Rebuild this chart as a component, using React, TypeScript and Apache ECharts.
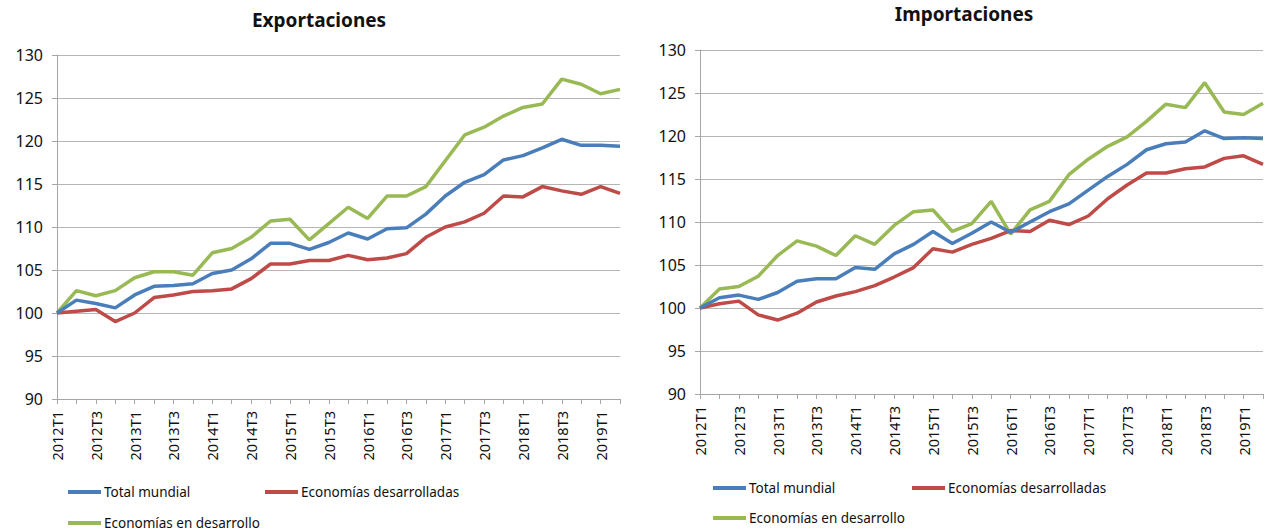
import React, { useEffect, useRef } from "react";
import * as echarts from "echarts";

const quarters = [
  "2012T1","2012T2","2012T3","2012T4",
  "2013T1","2013T2","2013T3","2013T4",
  "2014T1","2014T2","2014T3","2014T4",
  "2015T1","2015T2","2015T3","2015T4",
  "2016T1","2016T2","2016T3","2016T4",
  "2017T1","2017T2","2017T3","2017T4",
  "2018T1","2018T2","2018T3","2018T4",
  "2019T1","2019T2",
];

const seriesNames = ["Total mundial", "Economías desarrolladas", "Economías en desarrollo"];
const colors = ["#4a7ebb", "#be4b48", "#98b954"];

// Exportaciones
const expTotal = [100, 101.5, 101.1, 100.6, 102.1, 103.1, 103.2, 103.4, 104.6, 105.0, 106.3, 108.1, 108.1, 107.4, 108.2, 109.3, 108.6, 109.8, 109.9, 111.5, 113.6, 115.2, 116.1, 117.8, 118.3, 119.2, 120.2, 119.5, 119.5, 119.4];
const expDesarrolladas = [100, 100.2, 100.4, 99.0, 100.0, 101.8, 102.1, 102.5, 102.6, 102.8, 104.0, 105.7, 105.7, 106.1, 106.1, 106.7, 106.2, 106.4, 106.9, 108.8, 110.0, 110.6, 111.6, 113.6, 113.5, 114.7, 114.2, 113.8, 114.7, 113.9];
const expEnDesarrollo = [100, 102.6, 102.0, 102.6, 104.1, 104.8, 104.8, 104.4, 107.0, 107.5, 108.8, 110.7, 110.9, 108.5, 110.4, 112.3, 111.0, 113.6, 113.6, 114.7, 117.7, 120.7, 121.6, 122.9, 123.9, 124.3, 127.2, 126.6, 125.5, 126.0];

// Importaciones
const impTotal = [100, 101.2, 101.5, 101.0, 101.8, 103.1, 103.4, 103.4, 104.7, 104.5, 106.3, 107.4, 108.9, 107.5, 108.7, 110.0, 108.8, 110.0, 111.2, 112.1, 113.7, 115.3, 116.7, 118.4, 119.1, 119.3, 120.6, 119.7, 119.8, 119.7];
const impDesarrolladas = [100, 100.5, 100.8, 99.2, 98.6, 99.4, 100.7, 101.4, 101.9, 102.6, 103.6, 104.7, 106.9, 106.5, 107.4, 108.1, 109.0, 108.9, 110.2, 109.7, 110.7, 112.7, 114.3, 115.7, 115.7, 116.2, 116.4, 117.4, 117.7, 116.7];
const impEnDesarrollo = [100, 102.2, 102.5, 103.7, 106.1, 107.8, 107.2, 106.1, 108.4, 107.4, 109.6, 111.2, 111.4, 108.9, 109.8, 112.4, 108.6, 111.4, 112.4, 115.5, 117.3, 118.8, 119.9, 121.7, 123.7, 123.3, 126.2, 122.8, 122.5, 123.8];

const titles = ["Exportaciones", "Importaciones"];

export default function App() {
  const ref = useRef<HTMLDivElement>(null);
  useEffect(() => {
    document.body.style.margin = "0";
    if (!ref.current) return;
    const chart = echarts.init(ref.current, undefined, { renderer: "svg" });
    const font = "'Noto Sans', sans-serif";
    const grids = [
      { left: 57, right: 650, top: 55, bottom: 132 },
      { left: 700, right: 7, top: 50, bottom: 137 },
    ];
    const mkX = (i: number) => ({
      type: "category",
      gridIndex: i,
      data: quarters,
      boundaryGap: false,
      axisLine: { show: true, lineStyle: { color: "#a6a6a6", width: 1 } },
      axisTick: { show: true, interval: 0, length: 5, lineStyle: { color: "#a6a6a6" } },
      axisLabel: { interval: 1, rotate: 90, fontSize: 14.5, color: "#111", fontFamily: font, margin: 12 },
      splitLine: { show: false },
    });
    const mkY = (i: number) => ({
      type: "value",
      gridIndex: i,
      min: 90,
      max: 130,
      interval: 5,
      axisLine: { show: true, lineStyle: { color: "#a6a6a6", width: 1 } },
      axisTick: { show: true, length: 5, lineStyle: { color: "#a6a6a6" } },
      axisLabel: { fontSize: 16, color: "#111", fontFamily: font, margin: 14 },
      splitLine: { show: true, lineStyle: { color: "#b5b5b5", width: 1.2 } },
    });
    const data = [
      [expTotal, expDesarrolladas, expEnDesarrollo],
      [impTotal, impDesarrolladas, impEnDesarrollo],
    ];
    const series: any[] = [];
    data.forEach((group, gi) => {
      group.forEach((vals, si) => {
        series.push({
          type: "line",
          name: seriesNames[si],
          xAxisIndex: gi,
          yAxisIndex: gi,
          data: vals,
          showSymbol: false,
          symbol: "none",
          lineStyle: { color: colors[si], width: 3.5 },
          itemStyle: { color: colors[si] },
          z: si === 2 ? 1 : si === 1 ? 2 : 3,
        });
      });
    });
    const legendPos = [
      [
        { left: 68, top: 485 },
        { left: 265, top: 485 },
        { left: 68, top: 516 },
      ],
      [
        { left: 713, top: 481 },
        { left: 912, top: 481 },
        { left: 713, top: 511 },
      ],
    ];
    const legends: any[] = [];
    legendPos.forEach((panel) => {
      panel.forEach((p, si) => {
        legends.push({
          left: p.left,
          top: p.top,
          padding: 0,
          icon: "rect",
          itemWidth: 33,
          itemHeight: 4,
          itemGap: 0,
          selectedMode: false,
          data: [seriesNames[si]],
          textStyle: { fontSize: 13.5, lineHeight: 14, color: "#111", fontFamily: font, padding: [0, 0, 0, -2] },
        });
      });
    });
    chart.setOption({
      animation: false,
      backgroundColor: "#ffffff",
      title: [
        { text: titles[0], left: 319, top: 10, textAlign: "center", padding: 0, textStyle: { fontSize: 19, fontWeight: "bold", color: "#111", fontFamily: font } },
        { text: titles[1], left: 964, top: 4, textAlign: "center", padding: 0, textStyle: { fontSize: 19, fontWeight: "bold", color: "#111", fontFamily: font } },
      ],
      grid: grids,
      xAxis: [mkX(0), mkX(1)],
      yAxis: [mkY(0), mkY(1)],
      legend: legends,
      series,
    });
    return () => chart.dispose();
  }, []);
  return <div ref={ref} style={{ width: 1270, height: 531 }} />;
}
